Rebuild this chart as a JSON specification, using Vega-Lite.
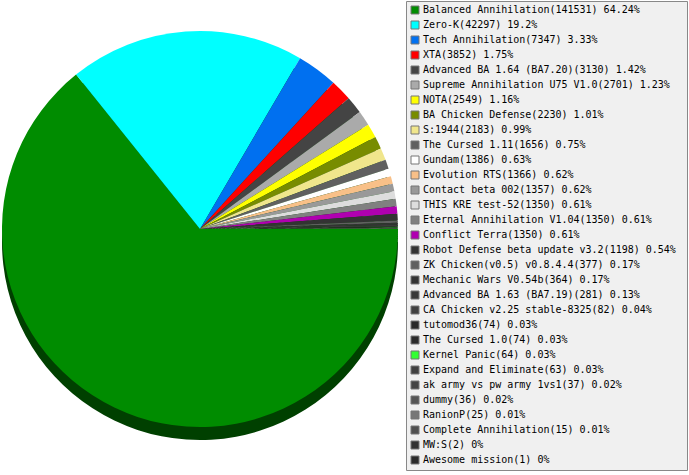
{
  "$schema": "https://vega.github.io/schema/vega-lite/v6.json",
  "width": 400,
  "height": 456,
  "padding": 0,
  "autosize": {"type": "pad"},
  "background": "white",
  "config": {"view": {"stroke": null}},
  "data": {
    "values": [
      {"rank": 1, "label": "Balanced Annihilation(141531) 64.24%", "count": 141531},
      {"rank": 2, "label": "Zero-K(42297) 19.2%", "count": 42297},
      {"rank": 3, "label": "Tech Annihilation(7347) 3.33%", "count": 7347},
      {"rank": 4, "label": "XTA(3852) 1.75%", "count": 3852},
      {"rank": 5, "label": "Advanced BA 1.64 (BA7.20)(3130) 1.42%", "count": 3130},
      {"rank": 6, "label": "Supreme Annihilation U75 V1.0(2701) 1.23%", "count": 2701},
      {"rank": 7, "label": "NOTA(2549) 1.16%", "count": 2549},
      {"rank": 8, "label": "BA Chicken Defense(2230) 1.01%", "count": 2230},
      {"rank": 9, "label": "S:1944(2183) 0.99%", "count": 2183},
      {"rank": 10, "label": "The Cursed 1.11(1656) 0.75%", "count": 1656},
      {"rank": 11, "label": "Gundam(1386) 0.63%", "count": 1386},
      {"rank": 12, "label": "Evolution RTS(1366) 0.62%", "count": 1366},
      {"rank": 13, "label": "Contact beta 002(1357) 0.62%", "count": 1357},
      {"rank": 14, "label": "THIS KRE test-52(1350) 0.61%", "count": 1350},
      {"rank": 15, "label": "Eternal Annihilation V1.04(1350) 0.61%", "count": 1350},
      {"rank": 16, "label": "Conflict Terra(1350) 0.61%", "count": 1350},
      {"rank": 17, "label": "Robot Defense beta update v3.2(1198) 0.54%", "count": 1198},
      {"rank": 18, "label": "ZK Chicken(v0.5) v0.8.4.4(377) 0.17%", "count": 377},
      {"rank": 19, "label": "Mechanic Wars V0.54b(364) 0.17%", "count": 364},
      {"rank": 20, "label": "Advanced BA 1.63 (BA7.19)(281) 0.13%", "count": 281},
      {"rank": 21, "label": "CA Chicken v2.25 stable-8325(82) 0.04%", "count": 82},
      {"rank": 22, "label": "tutomod36(74) 0.03%", "count": 74},
      {"rank": 23, "label": "The Cursed 1.0(74) 0.03%", "count": 74},
      {"rank": 24, "label": "Kernel Panic(64) 0.03%", "count": 64},
      {"rank": 25, "label": "Expand and Eliminate(63) 0.03%", "count": 63},
      {"rank": 26, "label": "ak army vs pw army 1vs1(37) 0.02%", "count": 37},
      {"rank": 27, "label": "dummy(36) 0.02%", "count": 36},
      {"rank": 28, "label": "RanionP(25) 0.01%", "count": 25},
      {"rank": 29, "label": "Complete Annihilation(15) 0.01%", "count": 15},
      {"rank": 30, "label": "MW:S(2) 0%", "count": 2},
      {"rank": 31, "label": "Awesome mission(1) 0%", "count": 1}
    ]
  },
  "layer": [
    {
      "mark": {"type": "arc", "radius": 198, "yOffset": 13, "color": "#004000"},
      "encoding": {
        "theta": {"field": "count", "type": "quantitative", "stack": true, "scale": {"range": [1.5707963, 7.8539816]}},
        "order": {"field": "rank", "type": "quantitative"}
      }
    },
    {
      "mark": {"type": "arc", "radius": 198},
      "encoding": {
        "theta": {"field": "count", "type": "quantitative", "stack": true, "scale": {"range": [1.5707963, 7.8539816]}},
        "order": {"field": "rank", "type": "quantitative"},
        "color": {
          "field": "label",
          "type": "nominal",
          "sort": null,
          "scale": {
            "range": [
              "#008c00", "#00ffff", "#0070f0", "#ff0000", "#444444", "#aaaaaa", "#ffff00", "#788c00",
              "#f0e68c", "#606060", "#ffffff", "#f8c088", "#999999", "#dddddd", "#808080", "#b000b0",
              "#333333", "#606060", "#333333", "#3a3a3a", "#404040", "#2a2a2a", "#2a2a2a", "#33ff33",
              "#404040", "#444444", "#555555", "#777777", "#505050", "#333333", "#2a2a2a"
            ]
          },
          "legend": {
            "title": "\u00a0",
            "titleOrient": "right",
            "titlePadding": 7,
            "titleFontSize": 4,
            "orient": "right",
            "offset": 6,
            "padding": 4,
            "symbolLimit": 0,
            "fillColor": "#f0f0f0",
            "strokeColor": "#888888",
            "symbolType": "square",
            "symbolSize": 64,
            "symbolStrokeColor": "#777777",
            "symbolStrokeWidth": 1,
            "symbolOpacity": 1,
            "labelFont": "DejaVu Sans Mono",
            "labelFontSize": 10,
            "labelColor": "#000000",
            "labelLimit": 400,
            "labelOffset": 3,
            "rowPadding": 3
          }
        }
      }
    }
  ]
}
